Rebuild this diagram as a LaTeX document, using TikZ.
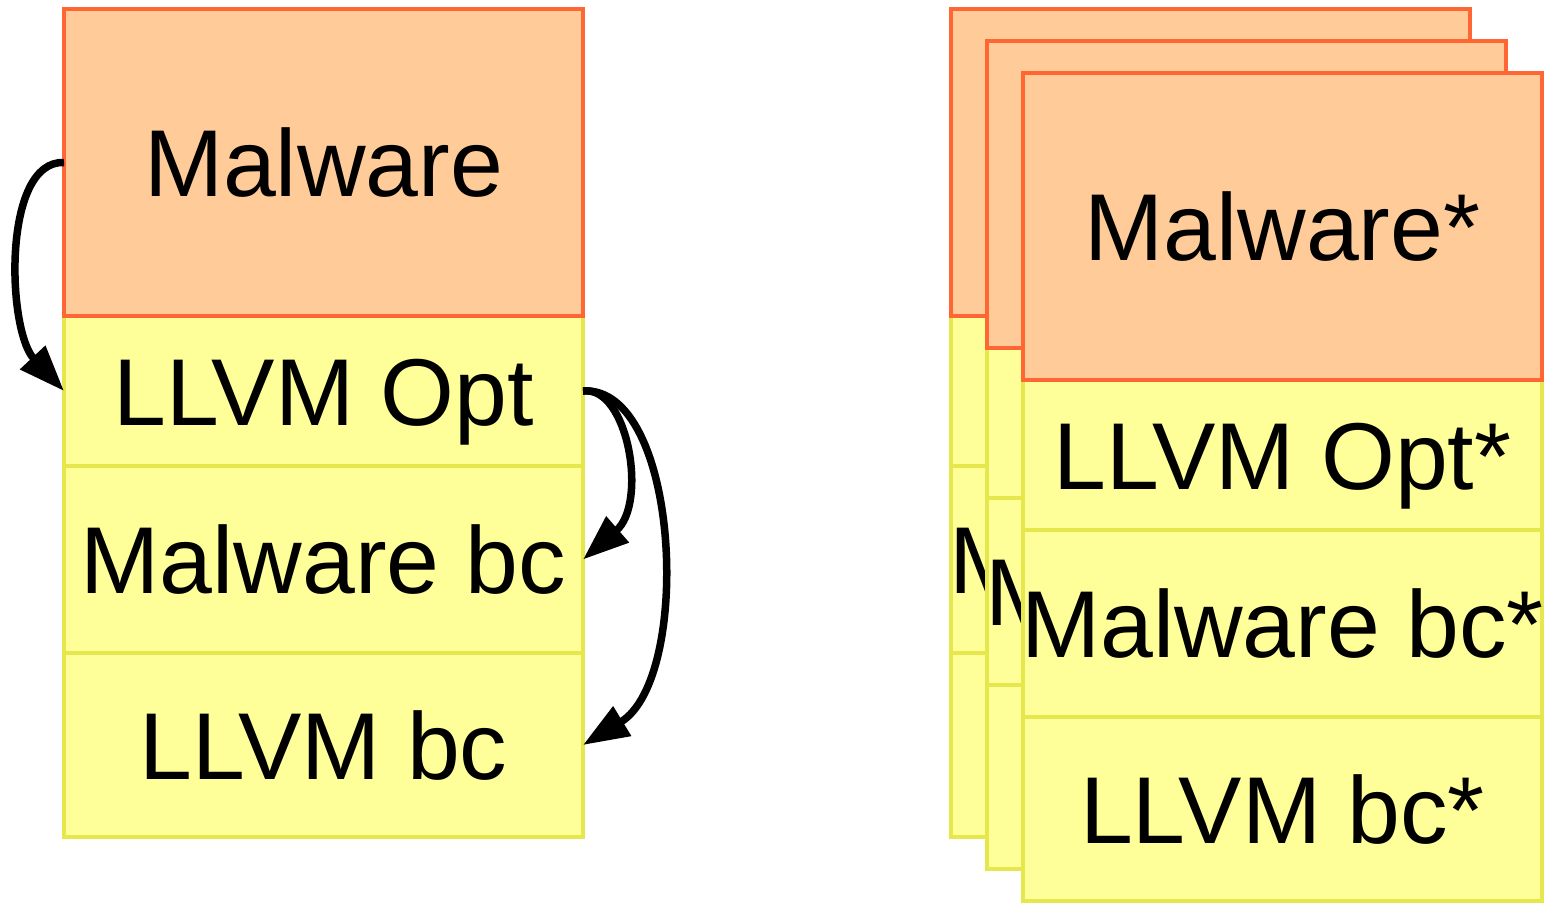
\documentclass[tikz,border=0pt]{standalone}
\usepackage{fontspec}
\setmainfont{Liberation Sans}
\usetikzlibrary{arrows.meta}
\definecolor{hostfill}{HTML}{FFCC99}
\definecolor{hostline}{HTML}{FF6633}
\definecolor{layfill}{HTML}{FFFF99}
\definecolor{layline}{HTML}{E6E64D}
\begin{document}
\begin{tikzpicture}[x=1pt,y=-1pt,
  layer/.style={rectangle, inner sep=0pt, outer sep=0pt, minimum width=519pt, line width=3.5pt},
  hostbox/.style={layer, fill=hostfill, draw=hostline, minimum height=307pt},
  optbox/.style={layer, fill=layfill, draw=layline, minimum height=150pt},
  bcbox/.style={layer, fill=layfill, draw=layline, minimum height=187pt},
  irbox/.style={layer, fill=layfill, draw=layline, minimum height=184pt},
  caption/.style={inner sep=0pt, text height=68pt, text depth=0pt,
    font=\fontsize{95}{114}\selectfont},
  flow/.style={line width=7.5pt, -{Triangle[length=46pt,width=33pt]}}]
\useasboundingbox (0,0) rectangle (1548,903);

% original build stack
\node[optbox] (o0) at (323.5,391) {};
\node[caption] (to0) at (o0) {LLVM Opt};
\node[bcbox]  (b0) at (323.5,559.5) {};
\node[caption] (tb0) at (b0) {Malware bc};
\node[irbox]  (l0) at (323.5,745) {};
\node[caption] (tl0) at (l0) {LLVM bc};
\node[hostbox] (m0) at (323.5,162.5) {};
\node[caption] (tm0) at (m0) {Malware};

\draw[flow] (m0.west) .. controls (2,160) and (7,330) .. (o0.west);
\draw[flow] (o0.east) .. controls (628,385) and (648,503) .. (b0.east);
\draw[flow] (o0.east) .. controls (680,385) and (693,678) .. (l0.east);

% three diversified copies, each one shifted down and to the right
\foreach \i in {1,2,3}{
  \begin{scope}[shift={({36*(\i-1)},{32*(\i-1)})}]
    \node[optbox] (o\i) at (1210.5,391) {};
    \node[caption] (to\i) at (o\i) {LLVM Opt*};
    \node[bcbox]  (b\i) at (1210.5,559.5) {};
    \node[caption] (tb\i) at (b\i) {Malware bc*};
    \node[irbox]  (l\i) at (1210.5,745) {};
    \node[caption] (tl\i) at (l\i) {LLVM bc*};
    \node[hostbox] (m\i) at (1210.5,162.5) {};
    \node[caption] (tm\i) at (m\i) {Malware*};
  \end{scope}
}
\end{tikzpicture}
\end{document}
